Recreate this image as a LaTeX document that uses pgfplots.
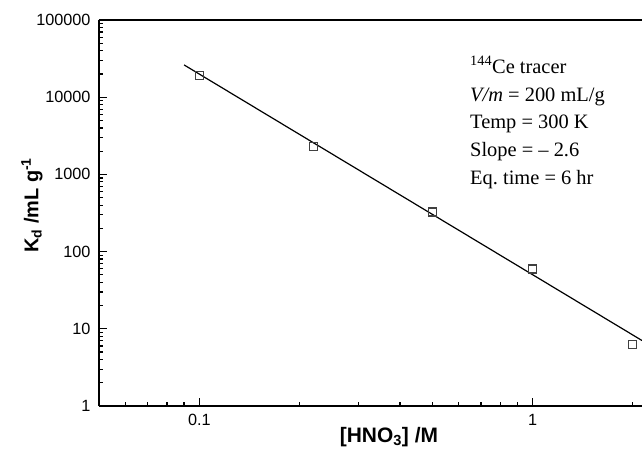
\documentclass[border=0pt]{standalone}
\usepackage{fontspec}
\setmainfont{Liberation Sans}
\newfontfamily\timesf[Ligatures=TeX]{Liberation Serif}
\usepackage{pgfplots}
\pgfplotsset{compat=1.18}

\begin{document}
\begin{tikzpicture}
\begin{axis}[
  name=ax,
  scale only axis,
  width=543bp, height=386bp,
  xmode=log, ymode=log,
  xmin=0.05, xmax=2.13, ymin=1, ymax=100000,
  axis x line*=bottom, axis y line*=left,
  axis line style={-, line width=1.5bp},
  xtick={0.1,1}, xticklabels={0.1,1},
  minor xtick={0.06,0.07,0.08,0.09,0.2,0.3,0.4,0.5,0.6,0.7,0.8,0.9,2},
  ytick={1,10,100,1000,10000,100000},
  yticklabels={1,10,100,1000,10000,100000},
  minor ytick={2,3,4,5,6,7,8,9,20,30,40,50,60,70,80,90,200,300,400,500,600,700,800,900,
               2000,3000,4000,5000,6000,7000,8000,9000,20000,30000,40000,50000,60000,70000,80000,90000},
  tick align=inside,
  major tick length=8bp, minor tick length=4.5bp,
  every tick/.style={black, line width=1.2bp},
  tick label style={font=\fontsize{16.3}{18}\selectfont},
  yticklabel style={xshift=-5bp},
  xticklabel style={yshift=-5bp},
  xlabel={\textbf{[HNO\textsubscript{3}] /M}},
  ylabel={\textbf{K\textsubscript{d} /mL g\textsuperscript{-1}}},
  label style={font=\fontsize{20}{24}\selectfont},
  xlabel style={at={(axis description cs:0.534,0)}, anchor=center, yshift=-31bp, font=\fontsize{21}{24}\selectfont},
  ylabel style={at={(axis description cs:0,0.52)}, anchor=center, yshift=67bp},
  clip=true,
]
% fitted line, slope -2.6
\addplot[black, line width=1.2bp] coordinates {(0.09,26200) (2.13,7.05)};
% measured Kd
\addplot[only marks, mark=square, mark size=4bp, mark options={draw=black!75, line width=1.1bp}]
  coordinates {(0.1,18970) (0.22,2285) (0.5,326) (1,59.5) (2,6.2)};
\draw[line width=1.5bp] (rel axis cs:0,1) -- (rel axis cs:1,1);
\end{axis}
\node[anchor=north west, align=left, inner sep=0pt,
      font=\timesf\fontsize{20.5}{28}\selectfont]
  at ([xshift=371bp,yshift=-36bp]ax.north west)
  {\textsuperscript{144}Ce tracer\\
   \textit{V/m} = 200 mL/g\\
   Temp = 300 K\\
   Slope = -- 2.6\\
   Eq.\ time = 6 hr};
\pgfresetboundingbox
\path[use as bounding box] ([xshift=-99bp,yshift=-43bp]ax.south west) rectangle ([yshift=20bp]ax.north east);
\end{tikzpicture}
\end{document}
